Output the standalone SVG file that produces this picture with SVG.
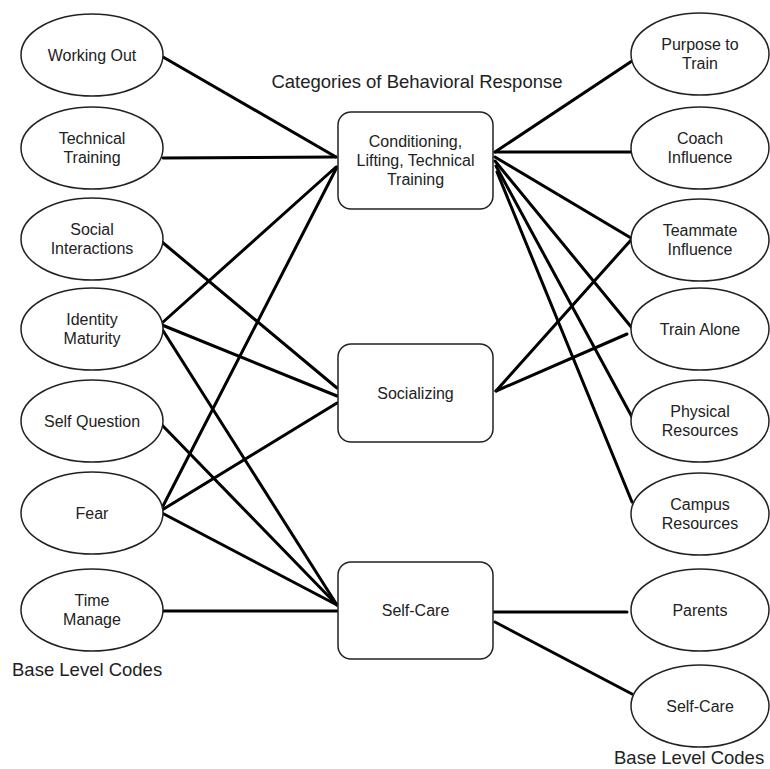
<svg xmlns="http://www.w3.org/2000/svg" width="770" height="769" viewBox="0 0 770 769">
  <style>
    .bg { fill: #ffffff; }
    .code ellipse { fill: #ffffff; stroke: #222222; stroke-width: 1.5; }
    .cat rect { fill: #ffffff; stroke: #222222; stroke-width: 1.5; }
    text { font-family: "Liberation Sans", Arial, Helvetica, sans-serif; fill: #222222; }
    .lbl { font-size: 16px; text-anchor: middle; }
    .head { font-size: 18.5px; }
    #connectors line { stroke: #000000; stroke-width: 3; stroke-linecap: round; }
  </style>
  <rect class="bg" x="0" y="0" width="770" height="769"/>

  <!-- connectors -->
  <g id="connectors">
    <!-- base codes (left) to categories -->
    <line x1="163" y1="57" x2="336" y2="157"/>
    <line x1="163" y1="158" x2="336" y2="157"/>
    <line x1="162" y1="242" x2="337" y2="388"/>
    <line x1="162" y1="323" x2="336" y2="167"/>
    <line x1="162" y1="325" x2="337" y2="396"/>
    <line x1="162" y1="329" x2="337" y2="605"/>
    <line x1="162" y1="425" x2="337" y2="605"/>
    <line x1="162" y1="508" x2="337" y2="167"/>
    <line x1="162" y1="510" x2="337" y2="403"/>
    <line x1="162" y1="513" x2="337" y2="605"/>
    <line x1="163" y1="611" x2="337" y2="611"/>
    <!-- categories to base codes (right) -->
    <line x1="495" y1="152" x2="632" y2="61"/>
    <line x1="495" y1="152" x2="632" y2="152"/>
    <line x1="495" y1="157" x2="631" y2="238"/>
    <line x1="495" y1="161" x2="632" y2="328"/>
    <line x1="496" y1="166" x2="632" y2="417"/>
    <line x1="497" y1="172" x2="632" y2="502"/>
    <line x1="496" y1="391" x2="631" y2="240"/>
    <line x1="496" y1="391" x2="627" y2="334"/>
    <line x1="494" y1="612" x2="627" y2="612"/>
    <line x1="495" y1="622" x2="632" y2="694"/>
  </g>

  <!-- left column: base level codes -->
  <g id="working-out" class="code">
    <ellipse cx="92" cy="55" rx="71" ry="41"/>
    <text class="lbl" x="92" y="60.5">Working Out</text>
  </g>
  <g id="technical-training" class="code">
    <ellipse cx="92" cy="148" rx="71" ry="41"/>
    <text class="lbl" x="92" y="143.5">Technical</text>
    <text class="lbl" x="92" y="162.5">Training</text>
  </g>
  <g id="social-interactions" class="code">
    <ellipse cx="92" cy="239" rx="71" ry="41"/>
    <text class="lbl" x="92" y="234.5">Social</text>
    <text class="lbl" x="92" y="253.5">Interactions</text>
  </g>
  <g id="identity-maturity" class="code">
    <ellipse cx="92" cy="329" rx="71" ry="41"/>
    <text class="lbl" x="92" y="324.5">Identity</text>
    <text class="lbl" x="92" y="343.5">Maturity</text>
  </g>
  <g id="self-question" class="code">
    <ellipse cx="92" cy="421" rx="71" ry="41"/>
    <text class="lbl" x="92" y="426.5">Self Question</text>
  </g>
  <g id="fear" class="code">
    <ellipse cx="92" cy="513" rx="71" ry="41"/>
    <text class="lbl" x="92" y="518.5">Fear</text>
  </g>
  <g id="time-manage" class="code">
    <ellipse cx="92" cy="610" rx="71" ry="41"/>
    <text class="lbl" x="92" y="605.5">Time</text>
    <text class="lbl" x="92" y="624.5">Manage</text>
  </g>
  <text class="head" x="12" y="676">Base Level Codes</text>

  <!-- centre column: categories -->
  <text class="head" x="417" y="88" text-anchor="middle">Categories of Behavioral Response</text>
  <g id="conditioning" class="cat">
    <rect x="338" y="112" width="155" height="97" rx="13"/>
    <text class="lbl" x="415.5" y="146.5">Conditioning,</text>
    <text class="lbl" x="415.5" y="165.5">Lifting, Technical</text>
    <text class="lbl" x="415.5" y="184.5">Training</text>
  </g>
  <g id="socializing" class="cat">
    <rect x="338" y="344" width="155" height="98" rx="13"/>
    <text class="lbl" x="415.5" y="398.5">Socializing</text>
  </g>
  <g id="self-care-cat" class="cat">
    <rect x="338" y="562" width="155" height="97" rx="13"/>
    <text class="lbl" x="415.5" y="615.5">Self-Care</text>
  </g>

  <!-- right column: base level codes -->
  <g id="purpose-to-train" class="code">
    <ellipse cx="700" cy="54" rx="69" ry="41"/>
    <text class="lbl" x="700" y="49.5">Purpose to</text>
    <text class="lbl" x="700" y="68.5">Train</text>
  </g>
  <g id="coach-influence" class="code">
    <ellipse cx="700" cy="148" rx="69" ry="41"/>
    <text class="lbl" x="700" y="143.5">Coach</text>
    <text class="lbl" x="700" y="162.5">Influence</text>
  </g>
  <g id="teammate-influence" class="code">
    <ellipse cx="700" cy="240" rx="69" ry="41"/>
    <text class="lbl" x="700" y="235.5">Teammate</text>
    <text class="lbl" x="700" y="254.5">Influence</text>
  </g>
  <g id="train-alone" class="code">
    <ellipse cx="700" cy="329" rx="69" ry="41"/>
    <text class="lbl" x="700" y="334.5">Train Alone</text>
  </g>
  <g id="physical-resources" class="code">
    <ellipse cx="700" cy="421" rx="69" ry="41"/>
    <text class="lbl" x="700" y="416.5">Physical</text>
    <text class="lbl" x="700" y="435.5">Resources</text>
  </g>
  <g id="campus-resources" class="code">
    <ellipse cx="700" cy="514" rx="69" ry="41"/>
    <text class="lbl" x="700" y="509.5">Campus</text>
    <text class="lbl" x="700" y="528.5">Resources</text>
  </g>
  <g id="parents" class="code">
    <ellipse cx="700" cy="610" rx="69" ry="41"/>
    <text class="lbl" x="700" y="615.5">Parents</text>
  </g>
  <g id="self-care-code" class="code">
    <ellipse cx="700" cy="706" rx="69" ry="41"/>
    <text class="lbl" x="700" y="711.5">Self-Care</text>
  </g>
  <text class="head" x="614" y="764">Base Level Codes</text>
</svg>
